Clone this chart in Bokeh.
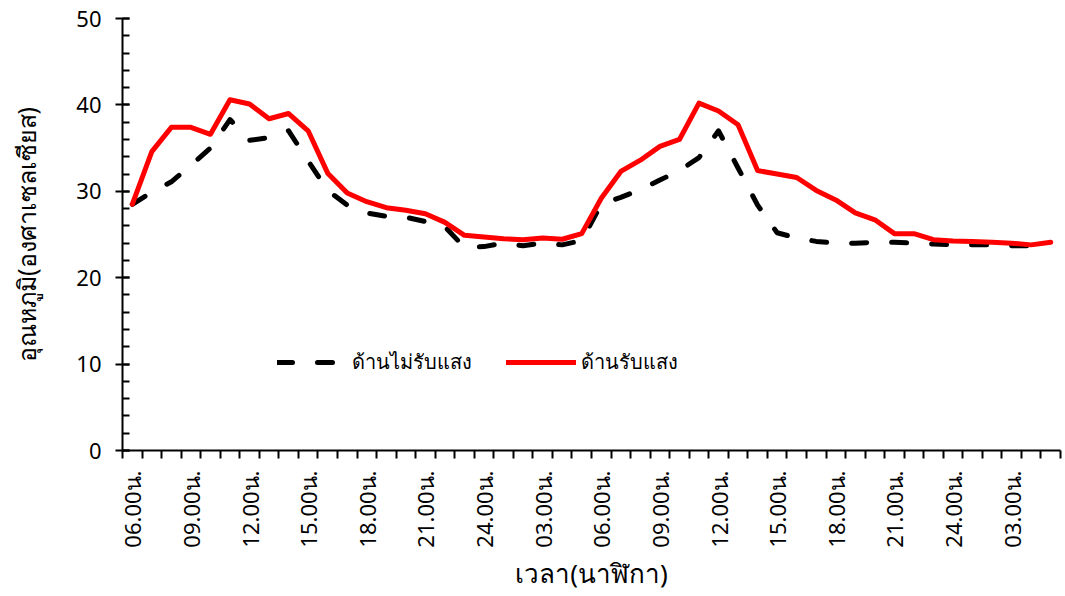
import math
from bokeh.plotting import figure
from bokeh.models import Range1d, FixedTicker, Legend, LegendItem
from bokeh.embed import file_html
from bokeh.resources import INLINE

# hourly categories (48 hours, from 06.00 day 1 to 05.00 day 3)
hours = ["06.00น.", "07.00น.", "08.00น.", "09.00น.", "10.00น.", "11.00น.", "12.00น.", "13.00น.",
         "14.00น.", "15.00น.", "16.00น.", "17.00น.", "18.00น.", "19.00น.", "20.00น.", "21.00น.",
         "22.00น.", "23.00น.", "24.00น.", "01.00น.", "02.00น.", "03.00น.", "04.00น.", "05.00น.",
         "06.00น.", "07.00น.", "08.00น.", "09.00น.", "10.00น.", "11.00น.", "12.00น.", "13.00น.",
         "14.00น.", "15.00น.", "16.00น.", "17.00น.", "18.00น.", "19.00น.", "20.00น.", "21.00น.",
         "22.00น.", "23.00น.", "24.00น.", "01.00น.", "02.00น.", "03.00น.", "04.00น.", "05.00น."]

shaded = [28.5, 29.9, 31.1, 33.0, 35.0, 38.3, 35.9, 36.2, 37.0, 33.5,
          30.1, 28.4, 27.5, 27.1, 27.0, 26.5, 25.9, 23.5, 23.6, 24.0,
          23.7, 24.0, 23.8, 24.3, 28.5, 29.3, 30.2, 31.3, 32.4, 33.9,
          37.0, 32.7, 28.4, 25.2, 24.6, 24.2, 24.0, 24.0, 24.1, 24.1,
          24.0, 23.9, 23.8, 23.8, 23.8, 23.7, 23.7, 24.0]

sunlit = [28.5, 34.6, 37.4, 37.4, 36.6, 40.6, 40.1, 38.4, 39.0, 37.0,
          32.1, 29.8, 28.8, 28.1, 27.8, 27.4, 26.4, 24.9, 24.7, 24.5,
          24.4, 24.6, 24.45, 25.1, 29.2, 32.3, 33.6, 35.2, 36.0, 40.2,
          39.3, 37.7, 32.4, 32.0, 31.6, 30.1, 29.0, 27.5, 26.7, 25.1,
          25.1, 24.4, 24.25, 24.2, 24.1, 24.0, 23.8, 24.1]

series_names = ["ด้านไม่รับแสง", "ด้านรับแสง"]
x_title = "เวลา(นาฬิกา)"
y_title = "อุณหภูมิ(องศาเซลเซียส)"

n = len(hours)
xs = list(range(n))
label_step = 3

FONT = "Noto Sans"

p = figure(width=1062, height=593, output_backend="svg", toolbar_location=None,
           x_range=Range1d(-0.5, n - 0.5), y_range=Range1d(0, 50),
           min_border_left=122, min_border_right=2, min_border_top=18, min_border_bottom=142)
p.outline_line_color = None
p.xgrid.grid_line_color = None
p.ygrid.grid_line_color = None
p.background_fill_color = "white"
p.border_fill_color = "white"

r1 = p.line(xs, shaded, line_color="black", line_width=5, line_dash="15 25",
            line_cap="round", line_join="round")
r2 = p.line(xs, sunlit, line_color="#FF0000", line_width=5,
            line_cap="round", line_join="round")

# x axis
major_x = xs[::label_step]
p.xaxis.ticker = FixedTicker(ticks=major_x,
                             minor_ticks=[i - 0.5 for i in range(n + 1)])
p.xaxis.major_label_overrides = {i: hours[i] for i in major_x}
p.xaxis.major_label_orientation = math.pi / 2
p.xaxis.major_tick_out = 0
p.xaxis.major_tick_in = 0
p.xaxis.minor_tick_out = 8
p.xaxis.minor_tick_in = 0
p.xaxis.minor_tick_line_width = 2
p.xaxis.axis_line_width = 2
p.xaxis.major_label_standoff = 12
p.xaxis.major_label_text_font = FONT
p.xaxis.major_label_text_font_size = "22px"
p.xaxis.major_label_text_color = "black"
p.xaxis.axis_label = x_title
p.xaxis.axis_label_text_font = FONT
p.xaxis.axis_label_text_font_size = "26px"
p.xaxis.axis_label_text_font_style = "normal"
p.xaxis.axis_label_text_color = "black"
p.xaxis.axis_label_standoff = 4

# y axis
p.yaxis.ticker = FixedTicker(ticks=[0, 10, 20, 30, 40, 50], minor_ticks=list(range(0, 51, 2)))
p.yaxis.major_tick_out = 7
p.yaxis.major_tick_in = 7
p.yaxis.minor_tick_out = 0
p.yaxis.minor_tick_in = 7
p.yaxis.major_tick_line_width = 2
p.yaxis.minor_tick_line_width = 2
p.yaxis.axis_line_width = 2
p.yaxis.major_label_standoff = 14
p.yaxis.major_label_text_font = FONT
p.yaxis.major_label_text_font_size = "22px"
p.yaxis.major_label_text_color = "black"
p.yaxis.axis_label = y_title
p.yaxis.axis_label_text_font = FONT
p.yaxis.axis_label_text_font_size = "25px"
p.yaxis.axis_label_text_font_style = "normal"
p.yaxis.axis_label_text_color = "black"
p.yaxis.axis_label_standoff = 30

legend = Legend(items=[LegendItem(label=series_names[0], renderers=[r1]),
                       LegendItem(label=series_names[1], renderers=[r2])],
                orientation="horizontal", location=(155, 72),
                border_line_alpha=0, background_fill_alpha=0,
                glyph_width=70, label_standoff=5, spacing=34,
                padding=0, margin=0,
                label_text_font=FONT, label_text_font_size="20px",
                label_text_color="black")
p.add_layout(legend, "center")

open("out.html", "w").write(file_html(p, INLINE))
